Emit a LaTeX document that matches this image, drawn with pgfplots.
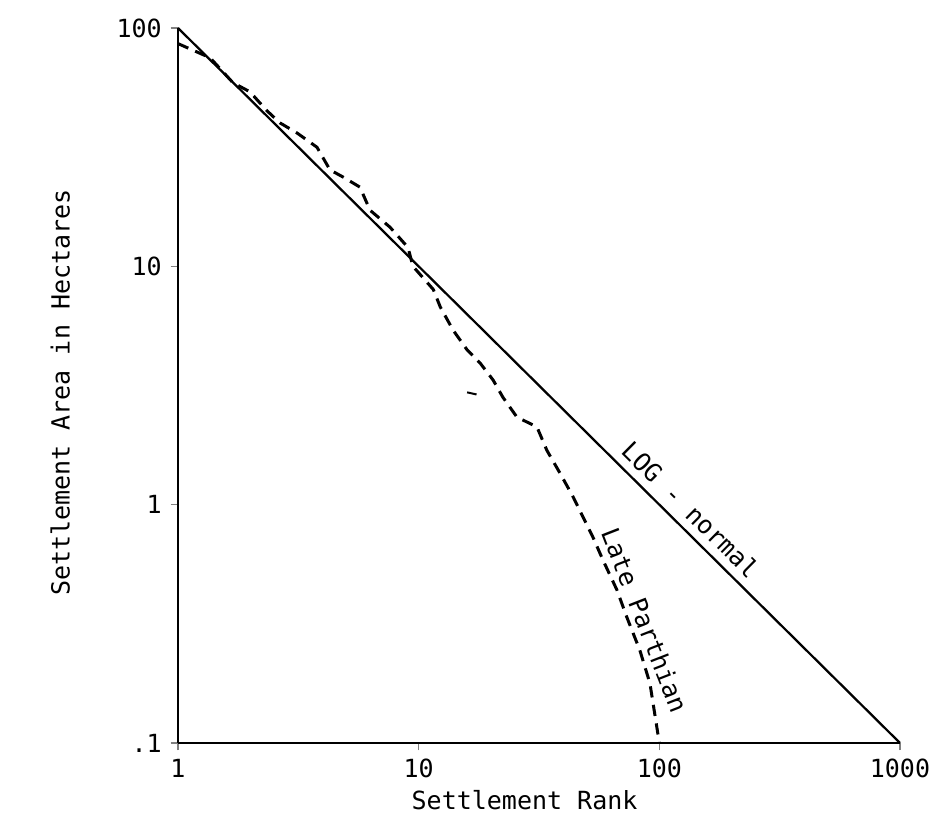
\documentclass[border=0pt]{standalone}
\usepackage{fontspec}
\setmainfont{DejaVu Sans Mono}
\usepackage{pgfplots}
\pgfplotsset{compat=1.18}
\begin{document}
\begin{tikzpicture}
\begin{axis}[
    scale only axis,
    width=288.8pt, height=286pt,
    xmode=log, ymode=log,
    xmin=1, xmax=1000, ymin=0.1, ymax=100,
    axis lines*=left,
    axis line style={line width=0.9pt},
    xtick={1,10,100,1000}, xticklabels={1,10,100,1000},
    ytick={0.1,1,10,100}, yticklabels={.1,1,10,100},
    xminorticks=false, yminorticks=false,
    tick align=outside, major tick length=3pt,
    tick style={line width=0.6pt},
    xlabel={Settlement Rank},
    ylabel={Settlement Area in Hectares},
    xlabel style={at={(axis description cs:0.48,-0.08)}, anchor=center},
    ylabel style={at={(axis description cs:-0.163,0.49)}, anchor=center},
    clip=false,
    ]
% log-normal reference line
\addplot[line width=0.9pt] coordinates {(1,100) (1000,0.1)};
% Late Parthian rank-size curve
\addplot[line width=1.2pt, dash pattern=on 4.5pt off 3pt] coordinates {
    (1.0,86) (1.36,75) (1.69,59) (1.99,54) (2.34,45) (2.65,40)
    (3.12,36.3) (3.78,31.6) (4.28,25.4) (4.85,23.7) (5.7,21.5)
    (6.28,17.2) (7.6,14.6) (9.03,12.0) (9.47,10) (11.5,8.0)
    (12.3,6.75) (13.9,5.4) (15.9,4.46) (18,3.93) (20.4,3.33)
    (22.4,2.82) (25.6,2.33) (31,2.12) (34.1,1.69) (38.6,1.36)
    (43.8,1.08) (48.2,0.887) (53,0.73) (58.3,0.586) (66.7,0.438)
    (73.3,0.337) (83,0.245) (91.4,0.178) (100,0.1)};
% stray stroke
\addplot[line width=0.8pt] coordinates {(15.9,2.96) (17.4,2.9)};
\node[rotate=-44.7, anchor=south] at (axis cs:119,0.84) {LOG - normal};
\node[rotate=-68.7] at (axis cs:87,0.328) {Late Parthian};
\coordinate (ll) at (rel axis cs:0,0);
\coordinate (ur) at (rel axis cs:1,1);
\end{axis}
\path ([shift={(-71.2pt,-38pt)}]ll) rectangle ([shift={(15.6pt,11.2pt)}]ur);
\end{tikzpicture}
\end{document}
